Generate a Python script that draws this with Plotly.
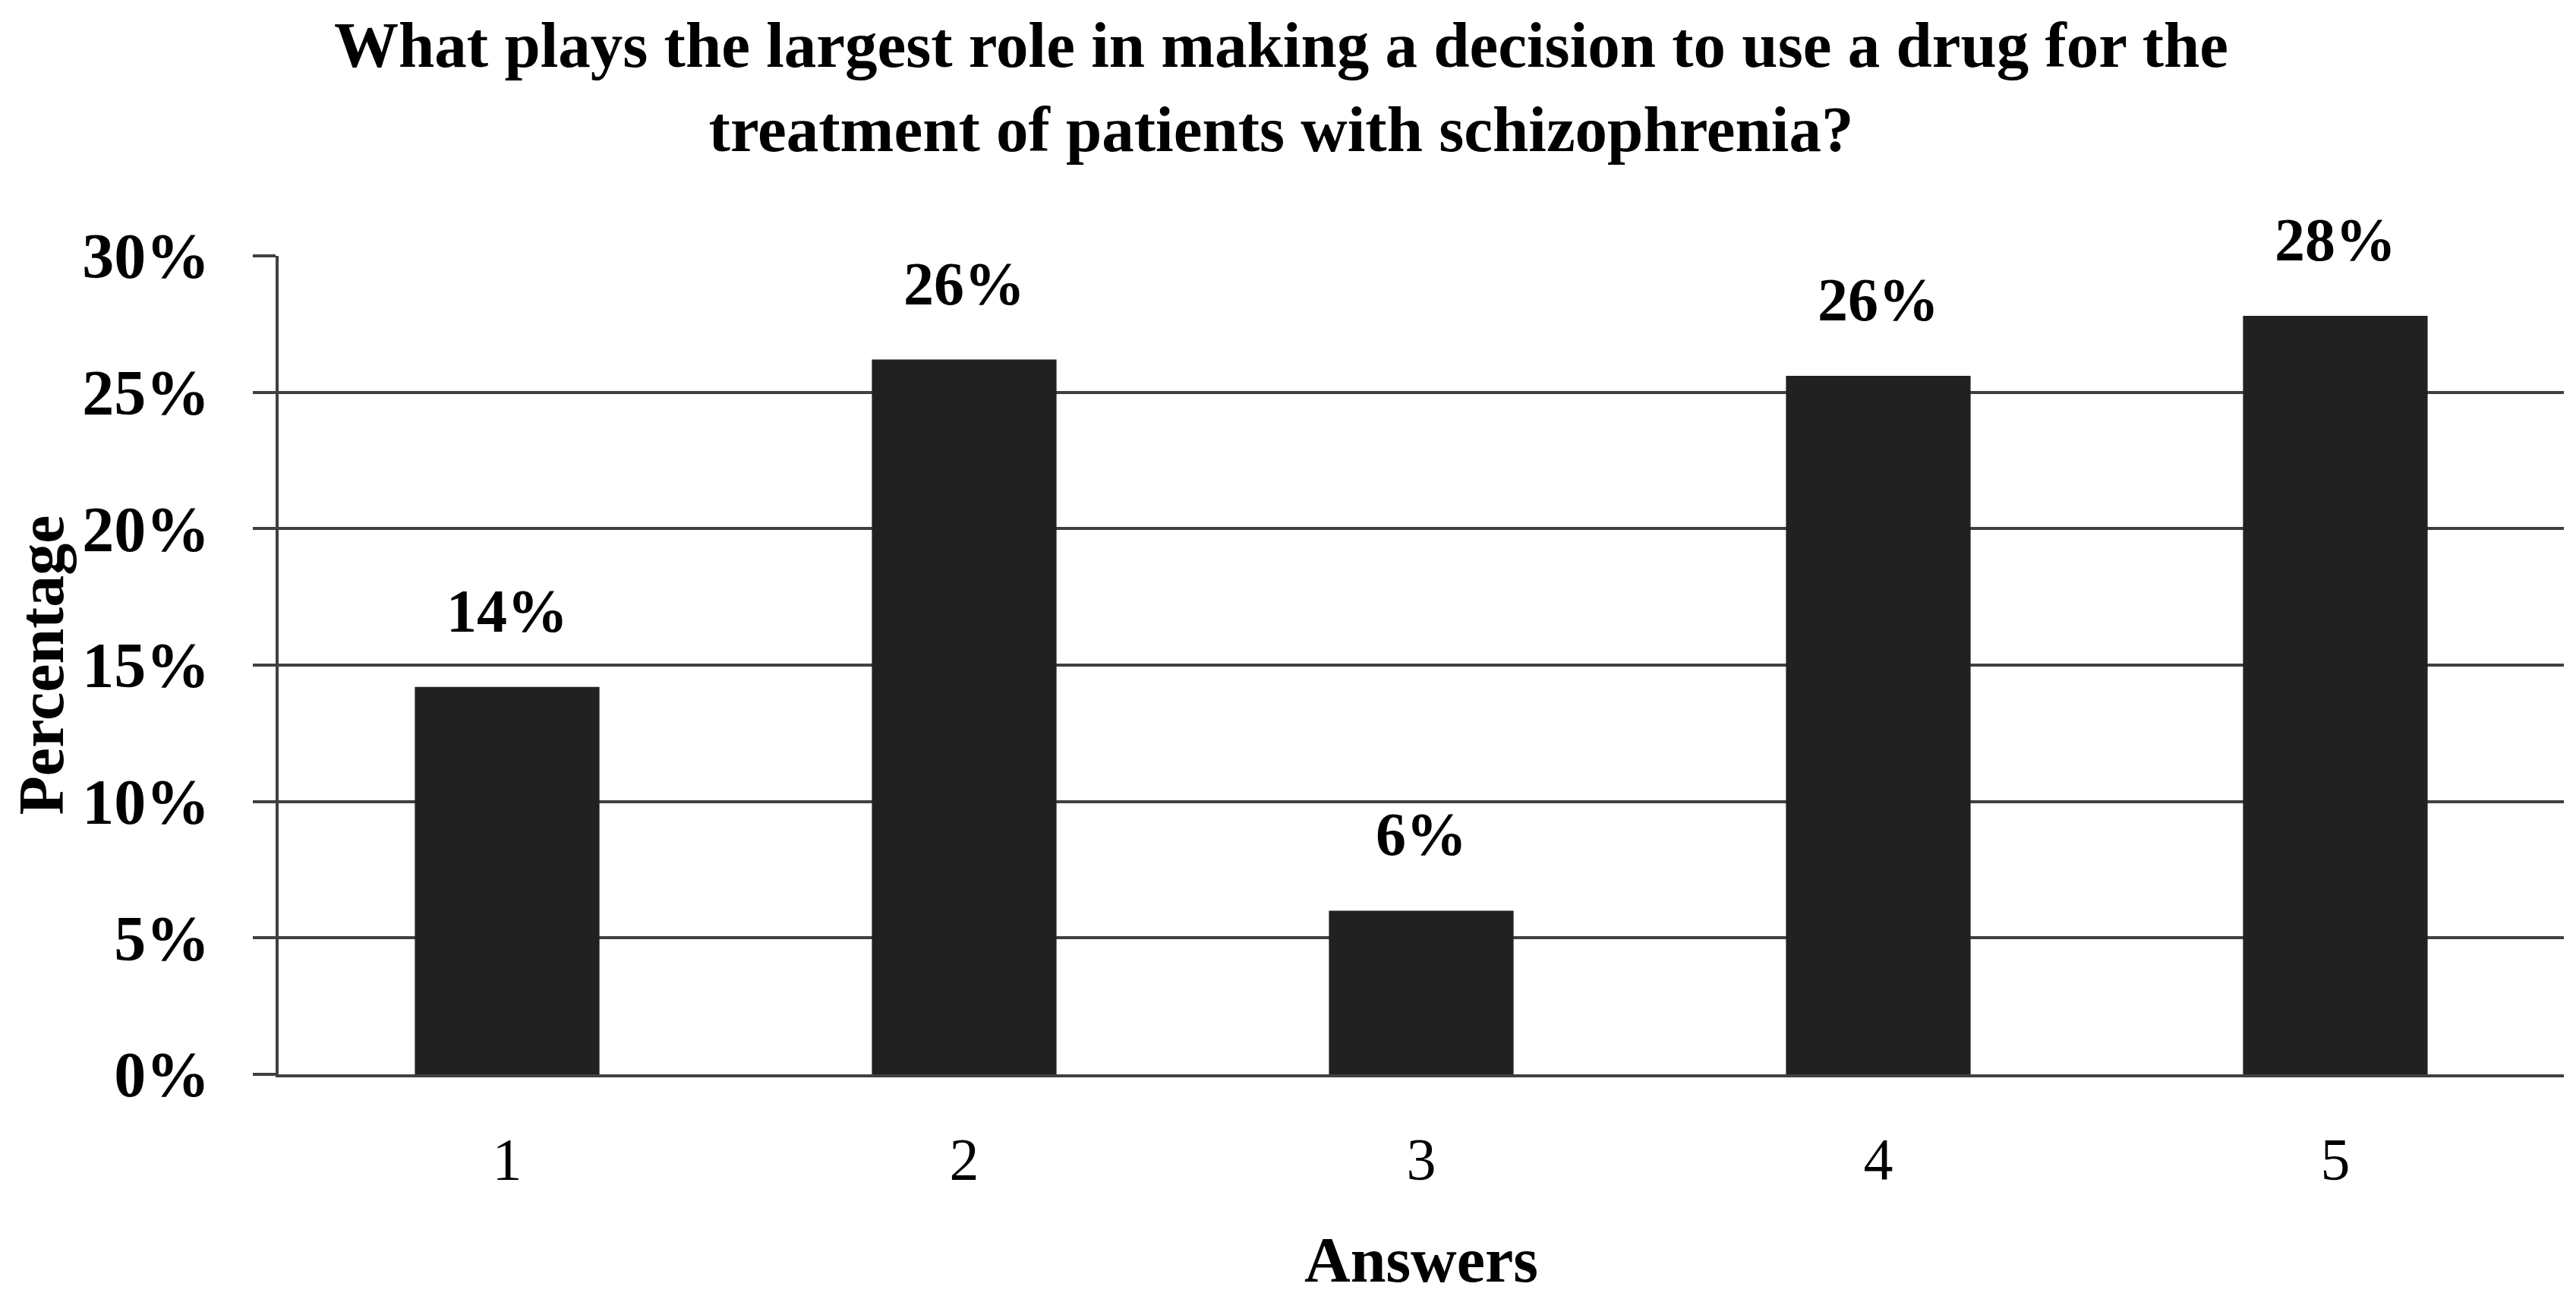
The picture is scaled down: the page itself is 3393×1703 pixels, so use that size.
import plotly.graph_objects as go

categories = ["1", "2", "3", "4", "5"]
values = [14.2, 26.2, 6.0, 25.6, 27.8]
labels = ["14%", "26%", "6%", "26%", "28%"]
y_ticks = [0, 5, 10, 15, 20, 25, 30]
title_text = "What plays the largest role in making a decision to use a drug for the<br>treatment of patients with schizophrenia?"

FONT = "Liberation Serif"
GRID = "#404040"

fig = go.Figure()
fig.add_trace(go.Bar(
    x=categories, y=values,
    marker=dict(color="#212121", line=dict(width=0)),
    width=0.404,
    hoverinfo="skip",
))

for i, (v, t) in enumerate(zip(values, labels)):
    fig.add_annotation(x=i, y=v, text=f"<b>{t}</b>", showarrow=False,
                       yanchor="bottom", yshift=54,
                       font=dict(family=FONT, size=80, color="black"))

fig.update_layout(
    width=3393, height=1703,
    margin=dict(l=359, r=24, t=329, b=296),
    paper_bgcolor="white", plot_bgcolor="white",
    showlegend=False,
    bargap=0.596,
    title=dict(text=f"<b>{title_text}</b>", x=0.495, xanchor="center",
               y=0.953, yanchor="top", yref="container",
               font=dict(family=FONT, size=85, color="black")),
    xaxis=dict(
        type="category",
        showgrid=False, showline=True, linecolor=GRID, linewidth=4,
        ticks="", tickfont=dict(family=FONT, size=78, color="black"),
        ticklabelstandoff=40,
        title=dict(text="<b>Answers</b>", font=dict(family=FONT, size=84, color="black"),
                   standoff=62),
    ),
    yaxis=dict(
        range=[0, 30], tickvals=y_ticks, ticktext=[f"<b>{v}%</b>" for v in y_ticks],
        showgrid=True, gridcolor=GRID, gridwidth=4,
        showline=True, linecolor=GRID, linewidth=4,
        ticks="outside", ticklen=30, tickwidth=4, tickcolor=GRID,
        tickfont=dict(family=FONT, size=84, color="black"),
        ticklabelstandoff=40,
        zeroline=False,
        title=dict(text="<b>Percentage</b>", font=dict(family=FONT, size=84, color="black"),
                   standoff=24),
    ),
)

fig.write_html("out.html")
